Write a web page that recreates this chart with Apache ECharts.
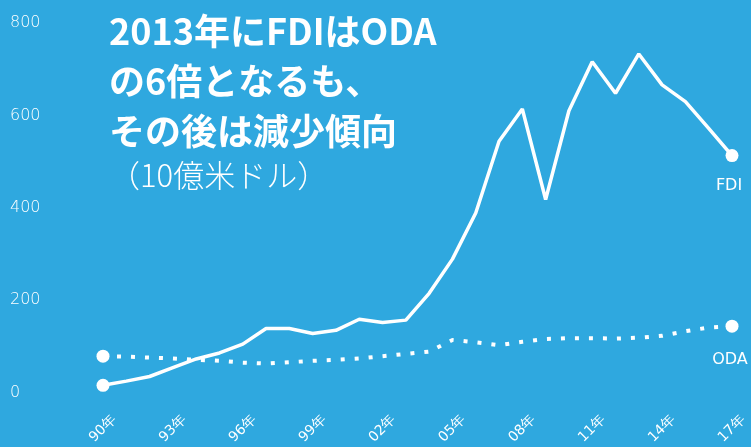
<!DOCTYPE html>
<html>
<head>
<meta charset="utf-8">
<script src="https://cdn.jsdelivr.net/npm/echarts@6/dist/echarts.min.js"></script>
<style>
  html, body { margin: 0; padding: 0; background: #2fa8df; }
  #main { width: 751px; height: 447px; }
</style>
</head>
<body>
<div id="main"></div>
<script>
// 年 (1990-2017)
const years = ['90年','91年','92年','93年','94年','95年','96年','97年','98年','99年',
  '00年','01年','02年','03年','04年','05年','06年','07年','08年','09年',
  '10年','11年','12年','13年','14年','15年','16年','17年']
// FDI (10億米ドル)
const fdi = [16, 25, 35, 54, 73, 86, 105, 139, 139, 128,
  135, 159, 152, 157, 215, 289, 389, 544, 614, 418,
  610, 716, 648, 733, 666, 630, 572, 513]
// ODA (10億米ドル)
const oda = [79, 78, 76, 74, 71, 69, 65, 63, 66, 69,
  71, 74, 79, 84, 89, 114, 109, 103, 110, 116,
  118, 118, 117, 119, 123, 133, 141, 144]
const yTicks = [0, 200, 400, 600, 800]

const last = years.length - 1
const chart = echarts.init(document.getElementById('main'))
const latin = 'DejaVu Sans'

function endDot(v, p) {
  return (p.dataIndex === 0 || p.dataIndex === last) ? 13 : 0
}

const option = {
  backgroundColor: '#2fa8df',
  animation: false,
  title: {
    left: 104,
    top: 1,
    text: '2013年にFDIはODA\nの6倍となるも、\nその後は減少傾向',
    textStyle: {
      color: '#fff',
      fontFamily: 'Noto Sans CJK JP',
      fontWeight: 'bold',
      fontSize: 36,
      lineHeight: 50
    },
    subtext: '（10億米ドル）',
    itemGap: 4,
    subtextStyle: {
      color: '#fff',
      fontFamily: 'Noto Sans CJK JP',
      fontWeight: 300,
      fontSize: 31
    }
  },
  grid: {
    left: 103,
    right: 19,
    top: 23,
    bottom: 53
  },
  xAxis: {
    type: 'category',
    boundaryGap: false,
    data: years,
    axisLine: { show: false },
    axisTick: { show: false },
    axisLabel: {
      interval: 2,
      rotate: 45,
      align: 'center',
      verticalAlign: 'middle',
      margin: 36,
      color: '#fff',
      fontFamily: latin,
      fontSize: 14
    }
  },
  yAxis: {
    type: 'value',
    min: yTicks[0],
    max: yTicks[yTicks.length - 1],
    interval: 200,
    splitLine: { show: false },
    axisLine: { show: false },
    axisTick: { show: false },
    axisLabel: {
      align: 'left',
      margin: 93,
      color: '#fff',
      fontFamily: latin,
      fontWeight: 200,
      fontSize: 16
    }
  },
  series: [
    {
      name: 'FDI',
      type: 'line',
      data: fdi,
      symbol: 'circle',
      symbolSize: endDot,
      itemStyle: { color: '#fff' },
      lineStyle: { color: '#fff', width: 3.5 },
      label: {
        show: true,
        position: 'bottom',
        distance: 16,
        offset: [-3, 0],
        color: '#fff',
        fontFamily: latin,
        fontSize: 16,
        formatter: p => p.dataIndex === last ? 'FDI' : ''
      }
    },
    {
      name: 'ODA',
      type: 'line',
      data: oda,
      symbol: 'circle',
      symbolSize: endDot,
      itemStyle: { color: '#fff' },
      lineStyle: { color: '#fff', width: 4, type: [4, 10] },
      label: {
        show: true,
        position: 'bottom',
        distance: 19,
        offset: [-2, 0],
        color: '#fff',
        fontFamily: latin,
        fontSize: 16,
        formatter: p => p.dataIndex === last ? 'ODA' : ''
      }
    }
  ]
}

chart.setOption(option)
</script>
</body>
</html>
